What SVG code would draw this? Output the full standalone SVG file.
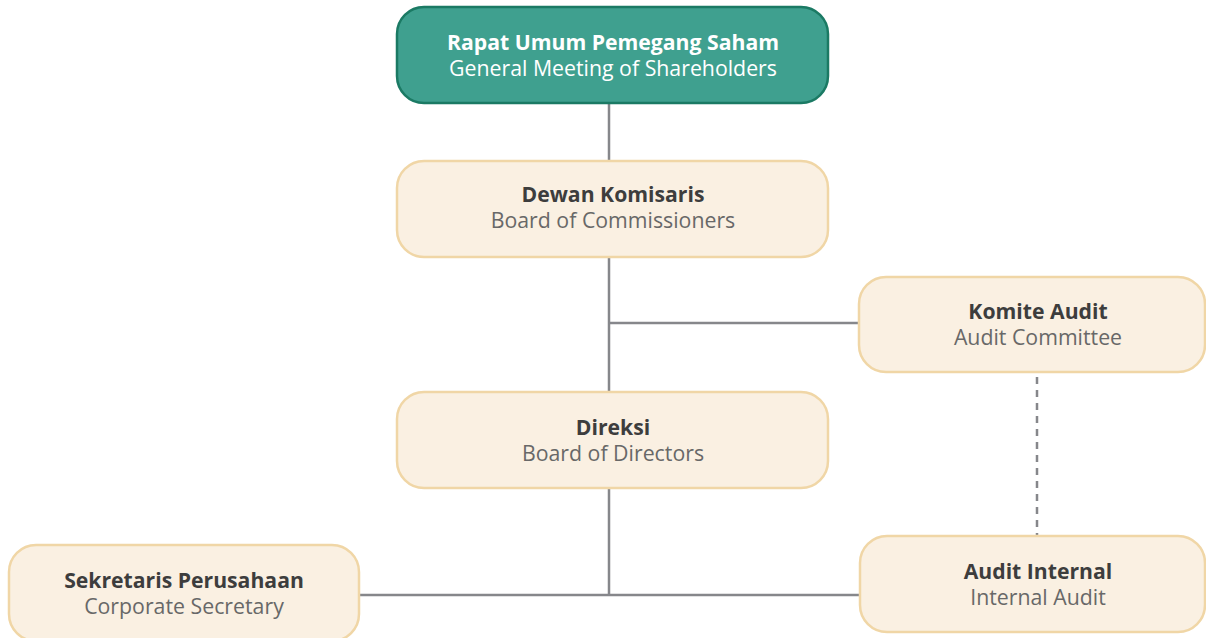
<svg xmlns="http://www.w3.org/2000/svg" width="1206" height="638" viewBox="0 0 1206 638">
<style>
.box{fill:#faf0e2;stroke:#f0d6a6;stroke-width:2.5}
.top{fill:#3fa08f;stroke:#1b7a64;stroke-width:2.5}
.t1{font-family:"Open Sans","Liberation Sans",sans-serif;font-size:21.2px;font-weight:bold;fill:#3d3d3d;text-anchor:middle}
.t2{font-family:"Open Sans","Liberation Sans",sans-serif;font-size:21.3px;fill:#686868;text-anchor:middle}
.w{fill:#ffffff}
.ln{stroke:#86878b;stroke-width:2.5;fill:none}
.dash{stroke-dasharray:7 6}
</style>
<rect width="1206" height="638" fill="#ffffff"/>
<g id="connectors">
<line class="ln" x1="609" y1="103" x2="609" y2="161"/>
<line class="ln" x1="609" y1="257" x2="609" y2="392"/>
<line class="ln" x1="609" y1="323" x2="859" y2="323"/>
<line class="ln" x1="609" y1="488" x2="609" y2="595"/>
<line class="ln" x1="360" y1="595" x2="860" y2="595"/>
<line class="ln dash" x1="1037" y1="377" x2="1037" y2="536"/>
</g>
<g id="rups">
<rect class="top" x="397" y="7" width="431" height="96" rx="27"/>
<text class="t1 w" x="613" y="50">Rapat Umum Pemegang Saham</text>
<text class="t2 w" x="613" y="76">General Meeting of Shareholders</text>
</g>
<g id="dekom">
<rect class="box" x="397" y="161" width="431" height="96" rx="27"/>
<text class="t1" x="613" y="202">Dewan Komisaris</text>
<text class="t2" x="613" y="228">Board of Commissioners</text>
</g>
<g id="komite">
<rect class="box" x="859" y="277" width="346" height="95" rx="27"/>
<text class="t1" x="1038" y="319">Komite Audit</text>
<text class="t2" x="1038" y="345">Audit Committee</text>
</g>
<g id="direksi">
<rect class="box" x="397" y="392" width="431" height="96" rx="27"/>
<text class="t1" x="613" y="435">Direksi</text>
<text class="t2" x="613" y="461">Board of Directors</text>
</g>
<g id="sekper">
<rect class="box" x="9" y="545" width="350" height="96" rx="27"/>
<text class="t1" x="184" y="588">Sekretaris Perusahaan</text>
<text class="t2" x="184" y="614">Corporate Secretary</text>
</g>
<g id="audit-internal">
<rect class="box" x="860" y="536" width="345" height="96" rx="27"/>
<text class="t1" x="1038" y="579">Audit Internal</text>
<text class="t2" x="1038" y="605">Internal Audit</text>
</g>
</svg>
